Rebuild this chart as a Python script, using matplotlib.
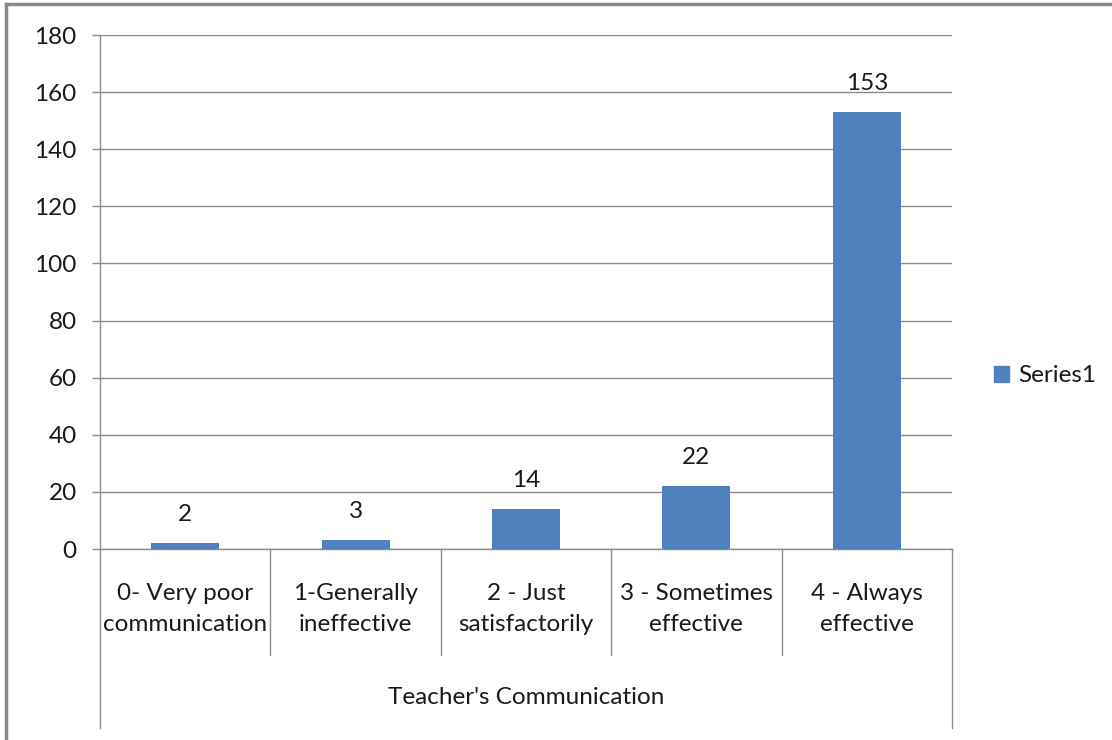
import matplotlib
matplotlib.use("Agg")
import matplotlib.pyplot as plt
import matplotlib.transforms as mtrans
from matplotlib.patches import Patch

categories = ["0- Very poor\ncommunication", "1-Generally\nineffective",
              "2 - Just\nsatisfactorily", "3 - Sometimes\neffective",
              "4 - Always\neffective"]
values = [2, 3, 14, 22, 153]
group_label = "Teacher's Communication"
series_name = "Series1"
yticks = [0, 20, 40, 60, 80, 100, 120, 140, 160, 180]

W, H = 1112, 740
bar_color = "#4F81BD"
line_color = "#8C8C8C"
text_color = "#1A1A1A"

plt.rcParams['font.family'] = ['Lato', 'DejaVu Sans']
fs = 17.5

fig = plt.figure(figsize=(W / 100, H / 100), dpi=100)

# plot area in pixels
x0, x1, ytop, ybot = 100, 952, 35, 549
ax = fig.add_axes([x0 / W, (H - ybot) / H, (x1 - x0) / W, (ybot - ytop) / H])

xs = range(len(values))
ax.bar(xs, values, width=0.4, color=bar_color, zorder=3)
ax.set_xlim(-0.5, len(values) - 0.5)
ax.set_ylim(0, 180)
ax.set_yticks(yticks)
ax.set_yticklabels([str(t) for t in yticks], fontsize=fs, color=text_color)
ax.yaxis.grid(True, color=line_color, linewidth=1)
ax.set_axisbelow(True)
ax.tick_params(axis='y', length=5.8, width=1, color=line_color, pad=11)
ax.set_xticks([])
for s in ['top', 'right']:
    ax.spines[s].set_visible(False)
for s in ['left', 'bottom']:
    ax.spines[s].set_color(line_color)
    ax.spines[s].set_linewidth(1)

for x, v in zip(xs, values):
    ax.annotate(str(v), (x, v), xytext=(0, 20.5), textcoords='offset points',
                ha='center', va='center', fontsize=fs, color=text_color)

# category axis with dividers
tr = mtrans.blended_transform_factory(ax.transData, ax.transAxes)
inner_bot = (ybot - 655) / (ybot - ytop)
outer_bot = (ybot - 728) / (ybot - ytop)
n = len(values)
for i in range(n + 1):
    xb = i - 0.5
    yb = outer_bot if i in (0, n) else inner_bot
    ax.plot([xb, xb], [0, yb], transform=tr, color=line_color, lw=1, clip_on=False)

cat_y = (ybot - 609) / (ybot - ytop)
for x, c in zip(xs, categories):
    ax.text(x, cat_y, c, transform=tr, ha='center', va='center', fontsize=fs,
            color=text_color, linespacing=1.6)

grp_y = (ybot - 697) / (ybot - ytop)
ax.text((n - 1) / 2, grp_y, group_label, transform=tr, ha='center', va='center',
        fontsize=fs, color=text_color)

# legend
fig.legend(handles=[Patch(color=bar_color, label=series_name)], loc='center left',
           bbox_to_anchor=(994 / W, (H - 376) / H), frameon=False, fontsize=fs,
           borderpad=0, borderaxespad=0,
           handlelength=0.6, handleheight=0.6, handletextpad=0.4, labelcolor=text_color)

# outer border (left and top only)
fig.add_artist(plt.Line2D([6 / W, 6 / W], [0, 1 - 4 / H], transform=fig.transFigure,
                          color="#8A8A8A", lw=2.5))
fig.add_artist(plt.Line2D([6 / W, 1], [1 - 4 / H, 1 - 4 / H], transform=fig.transFigure,
                          color="#8A8A8A", lw=2.5))

fig.savefig("out.png", dpi=100)
